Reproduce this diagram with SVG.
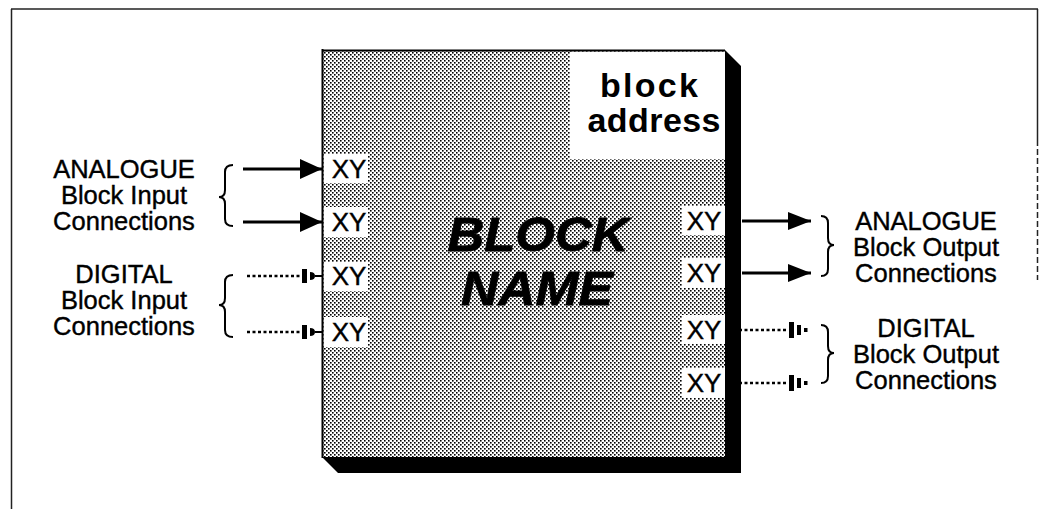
<svg xmlns="http://www.w3.org/2000/svg" width="1039" height="509" viewBox="0 0 1039 509">
  <defs>
    <pattern id="dots" width="4" height="4" patternUnits="userSpaceOnUse">
      <rect width="4" height="4" fill="#ffffff"/>
      <rect x="0" y="0" width="1.6" height="1.6" fill="#000"/>
      <rect x="2" y="2" width="1.6" height="1.6" fill="#000"/>
    </pattern>
    <marker id="arrowL" markerUnits="userSpaceOnUse" markerWidth="24" markerHeight="22" refX="22" refY="10" orient="auto">
      <path d="M0,0 L22,10 L0,20 Z" fill="#000"/>
    </marker>
    <marker id="arrowR" markerUnits="userSpaceOnUse" markerWidth="24" markerHeight="20" refX="23" refY="9" orient="auto">
      <path d="M0,0 L23,9 L0,18 Z" fill="#000"/>
    </marker>
  </defs>
  <style>
    .lbl { font-family: "Liberation Sans", Arial, sans-serif; font-size: 25.5px; fill: #000; stroke: #000; stroke-width: 0.4; text-anchor: middle; }
    .xy { font-family: "Liberation Sans", Arial, sans-serif; font-size: 26px; fill: #000; stroke: #000; stroke-width: 0.4; text-anchor: middle; }
    .addr { font-family: "Liberation Sans", Arial, sans-serif; font-size: 34px; font-weight: bold; fill: #000; text-anchor: middle; }
    .name { font-family: "Liberation Sans", Arial, sans-serif; font-size: 48px; font-weight: bold; font-style: italic; fill: #000; stroke: #000; stroke-width: 0.8; text-anchor: middle; }
    .brace { fill: none; stroke: #000; stroke-width: 2; }
    .solid { stroke: #000; stroke-width: 3; fill: none; }
    .dotted { stroke: #000; stroke-width: 2.5; stroke-dasharray: 3 2.5; fill: none; }
    .frame { stroke: #222; stroke-width: 1.5; fill: none; }
  </style>

  <g id="frame">
    <line class="frame" x1="11" y1="9" x2="1038" y2="9"/>
    <line class="frame" x1="11.5" y1="9" x2="11.5" y2="509"/>
    <line class="frame" x1="1037.5" y1="9" x2="1037.5" y2="140"/>
    <line class="frame" x1="1037.5" y1="140" x2="1037.5" y2="280" stroke-dasharray="6 3"/>
  </g>

  <g id="block">
    <polygon points="725,50 741,66 741,473 338,473 322,457 725,457" fill="#000"/>
    <rect x="322" y="50" width="403" height="407" fill="url(#dots)"/>
    <line x1="322.5" y1="49" x2="322.5" y2="458" stroke="#000" stroke-width="2"/>
    <line x1="322" y1="50.5" x2="725" y2="50.5" stroke="#000" stroke-width="2"/>
    <rect x="570" y="52" width="155" height="107" fill="#fff"/>
    <text class="addr" x="649" y="97" textLength="98" lengthAdjust="spacing">block</text>
    <text class="addr" x="654" y="132" textLength="133" lengthAdjust="spacing">address</text>
    <text class="name" x="538" y="251" textLength="181" lengthAdjust="spacingAndGlyphs">BLOCK</text>
    <text class="name" x="537" y="305" textLength="152" lengthAdjust="spacingAndGlyphs">NAME</text>
    <g id="inputs-xy">
      <rect x="324" y="154" width="44" height="29" fill="#fff"/>
      <rect x="324" y="207" width="44" height="30" fill="#fff"/>
      <rect x="324" y="262" width="44" height="29" fill="#fff"/>
      <rect x="324" y="317" width="44" height="30" fill="#fff"/>
      <text class="xy" x="349" y="178">XY</text>
      <text class="xy" x="349" y="231">XY</text>
      <text class="xy" x="349" y="285">XY</text>
      <text class="xy" x="349" y="341">XY</text>
    </g>
    <g id="outputs-xy">
      <rect x="682" y="206" width="43" height="29" fill="#fff"/>
      <rect x="682" y="258" width="43" height="30" fill="#fff"/>
      <rect x="682" y="315" width="43" height="29" fill="#fff"/>
      <rect x="682" y="368" width="43" height="30" fill="#fff"/>
      <text class="xy" x="704" y="230">XY</text>
      <text class="xy" x="704" y="282">XY</text>
      <text class="xy" x="704" y="339">XY</text>
      <text class="xy" x="704" y="392">XY</text>
    </g>
  </g>

  <g id="connectors">
    <line class="solid" x1="243" y1="169" x2="322" y2="169" marker-end="url(#arrowL)"/>
    <line class="solid" x1="243" y1="222" x2="322" y2="222" marker-end="url(#arrowL)"/>
    <g id="din1">
      <line class="dotted" x1="247" y1="276" x2="301" y2="276"/>
      <rect x="302" y="269" width="5" height="14" fill="#000"/>
      <path d="M310,272 Q315,272 315,276 Q315,280 310,280 Z" fill="#000"/>
      <line x1="315" y1="276" x2="322" y2="276" stroke="#000" stroke-width="2"/>
    </g>
    <g id="din2">
      <line class="dotted" x1="247" y1="332" x2="301" y2="332"/>
      <rect x="302" y="325" width="5" height="14" fill="#000"/>
      <path d="M310,328 Q315,328 315,332 Q315,336 310,336 Z" fill="#000"/>
      <line x1="315" y1="332" x2="322" y2="332" stroke="#000" stroke-width="2"/>
    </g>
    <line class="solid" x1="742" y1="221" x2="811" y2="221" marker-end="url(#arrowR)"/>
    <line class="solid" x1="742" y1="273" x2="811" y2="273" marker-end="url(#arrowR)"/>
    <g id="dout1">
      <line class="dotted" x1="728" y1="330" x2="788" y2="330"/>
      <rect x="789" y="322" width="5" height="16" fill="#000"/>
      <rect x="797" y="325" width="4" height="10" fill="#000"/>
      <rect x="804" y="328" width="3.5" height="4" fill="#000"/>
    </g>
    <g id="dout2">
      <line class="dotted" x1="728" y1="383" x2="788" y2="383"/>
      <rect x="789" y="375" width="5" height="16" fill="#000"/>
      <rect x="797" y="378" width="4" height="10" fill="#000"/>
      <rect x="804" y="381" width="3.5" height="4" fill="#000"/>
    </g>
  </g>

  <g id="analogue-inputs">
    <path class="brace" d="M233,165 Q225,165 225,172 L225,190 Q225,197 219,197 Q225,197 225,204 L225,219 Q225,226 233,226"/>
    <text class="lbl" x="124" y="178">ANALOGUE</text>
    <text class="lbl" x="124" y="204">Block Input</text>
    <text class="lbl" x="124" y="230">Connections</text>
  </g>
  <g id="digital-inputs">
    <path class="brace" d="M233,275 Q225,275 225,282 L225,298 Q225,305 219,305 Q225,305 225,312 L225,330 Q225,337 233,337"/>
    <text class="lbl" x="124" y="283">DIGITAL</text>
    <text class="lbl" x="124" y="309">Block Input</text>
    <text class="lbl" x="124" y="335">Connections</text>
  </g>
  <g id="analogue-outputs">
    <path class="brace" d="M821,216 Q828,216 828,223 L828,238 Q828,245 834,245 Q828,245 828,252 L828,269 Q828,276 821,276"/>
    <text class="lbl" x="926" y="230">ANALOGUE</text>
    <text class="lbl" x="926" y="256">Block Output</text>
    <text class="lbl" x="926" y="282">Connections</text>
  </g>
  <g id="digital-outputs">
    <path class="brace" d="M821,325 Q828,325 828,332 L828,346 Q828,353 834,353 Q828,353 828,360 L828,376 Q828,383 821,383"/>
    <text class="lbl" x="926" y="337">DIGITAL</text>
    <text class="lbl" x="926" y="363">Block Output</text>
    <text class="lbl" x="926" y="389">Connections</text>
  </g>
</svg>
